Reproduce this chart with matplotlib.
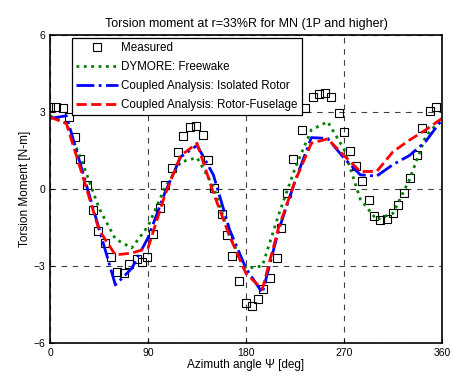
import matplotlib
matplotlib.use("Agg")
import matplotlib.pyplot as plt

plt.rcParams['font.family'] = ['Liberation Sans', 'DejaVu Sans']

# measured torsion moment
meas_psi = [0, 5, 11.6, 17.7, 23, 27.6, 34.3, 39.2, 44.4, 50.5, 56, 61.2, 68, 72.8,
            79.6, 84.2, 89.4, 94.3, 101, 105.6, 111.8, 117.8, 122.4, 128.6, 134, 140.8,
            145.4, 150.6, 157.7, 162.3, 167.4, 173.8, 180, 185.5, 191, 195.3, 202, 208.2,
            212.1, 217.3, 223.5, 231.1, 234.2, 241.8, 247.3, 252.5, 258, 265, 269.6, 275.5,
            280.7, 286.2, 293, 297.5, 303, 309.2, 314.7, 319.9, 325.4, 330.6, 337.3,
            341.9, 349, 354.5]
meas_val = [3.2, 3.21, 3.14, 2.79, 2.04, 1.16, 0.16, -0.82, -1.62, -2.12, -2.66, -3.22,
            -3.26, -2.93, -2.74, -2.83, -2.64, -1.77, -0.75, 0.16, 0.81, 1.45, 2.06, 2.40,
            2.45, 2.10, 1.13, 0.03, -0.97, -1.79, -2.6, -3.57, -4.43, -4.57, -4.29, -3.9,
            -3.48, -2.7, -1.51, -0.14, 1.17, 2.30, 3.14, 3.57, 3.70, 3.73, 3.57, 2.97,
            2.21, 1.49, 0.90, 0.29, -0.45, -1.04, -1.21, -1.18, -0.95, -0.62, -0.17, 0.42,
            1.32, 2.36, 3.05, 3.21]

psi = [0, 15, 30, 45, 60, 75, 90, 105, 120, 135, 150, 165, 180, 195, 210, 225, 240,
       255, 270, 285, 300, 315, 330, 345, 360]

dymore = [2.85, 2.55, 1.0, -0.75, -1.95, -2.3, -1.45, 0.0, 1.05, 1.22, 0.1, -1.85,
          -3.1, -3.0, -1.0, 0.8, 2.3, 2.62, 1.55, -0.4, -1.2, -0.95, 0.35, 2.05, 2.75]
isolated = [2.75, 2.85, 0.65, -1.55, -3.74, -3.1, -1.9, -0.2, 1.25, 1.7, 0.55, -1.6,
            -3.1, -4.05, -1.6, 0.3, 2.0, 1.97, 1.2, 0.55, 0.5, 0.95, 1.3, 1.85, 2.7]
fuselage = [2.8, 2.55, 0.5, -1.6, -2.57, -2.5, -2.3, -0.3, 1.3, 1.78, -0.15, -1.85,
            -3.3, -3.9, -1.5, 0.3, 1.78, 1.95, 1.3, 0.68, 0.68, 1.45, 1.9, 2.3, 2.75]

fig = plt.figure(figsize=(4.51, 3.76), dpi=100)
ax = fig.add_axes([0.111, 0.088, 0.869, 0.819])

ax.plot(meas_psi, meas_val, 's', mfc='none', mec='black', ms=6, mew=0.8, label='Measured')
ax.plot(psi, dymore, ':', color='#008000', lw=2.0, label='DYMORE: Freewake')
ax.plot(psi, isolated, '-.', color='#0000ff', lw=2.0, label='Coupled Analysis: Isolated Rotor')
ax.plot(psi, fuselage, '--', color='#ff0000', lw=2.0, label='Coupled Analysis: Rotor-Fuselage')

ax.set_xlim(0, 360)
ax.set_ylim(-6, 6)
ax.set_xticks([0, 90, 180, 270, 360])
ax.set_yticks([-6, -3, 0, 3, 6])
ax.grid(True, linestyle=(0, (5, 5)), color='0.25', lw=0.8)
ax.tick_params(direction='in', labelsize=7.5, length=3)
for s in ax.spines.values():
    s.set_linewidth(1.2)

ax.set_title('Torsion moment at r=33%R for MN (1P and higher)', fontsize=9)
ax.set_xlabel('Azimuth angle Ψ [deg]', fontsize=8.5, labelpad=1)
ax.set_ylabel('Torsion Moment [N-m]', fontsize=8.5, labelpad=2)

leg = ax.legend(loc='upper left', bbox_to_anchor=(0.055, 0.99), fontsize=8.4,
                fancybox=False, edgecolor='black', framealpha=1, handlelength=3.6,
                borderpad=0.35, labelspacing=0.6, handletextpad=0.3, borderaxespad=0)
leg.get_frame().set_linewidth(0.9)

fig.savefig('out.png', dpi=100)
